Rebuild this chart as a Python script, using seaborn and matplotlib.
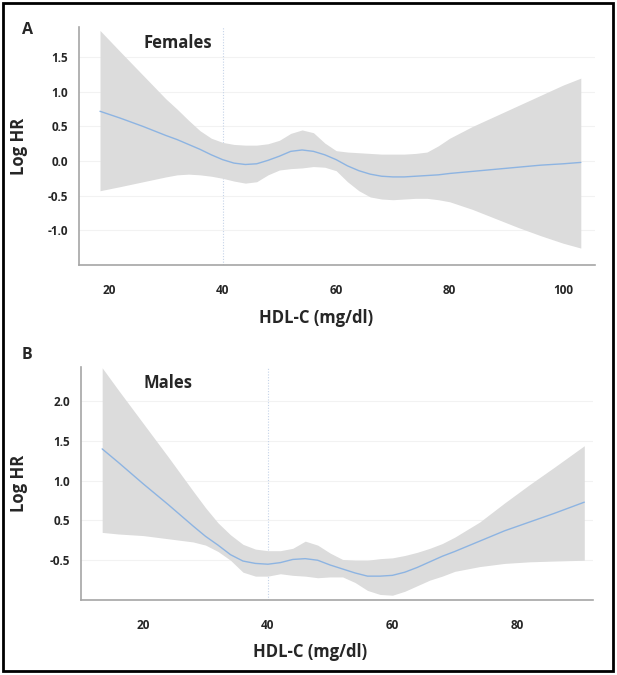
import matplotlib
matplotlib.use("Agg")
import matplotlib.pyplot as plt
import seaborn as sns
import numpy as np

# ---- Panel A: Females ----
fem_x = [18.4, 22, 26, 30, 32, 34, 36, 38, 40, 42, 44, 46, 48, 50, 52, 54, 56, 58, 60,
         62, 64, 66, 68, 70, 72, 74, 76, 78, 80, 84, 88, 92, 96, 100, 103.1]
fem_fit = [0.72, 0.62, 0.50, 0.37, 0.31, 0.24, 0.17, 0.09, 0.02, -0.03, -0.05, -0.04, 0.01,
           0.07, 0.14, 0.16, 0.14, 0.09, 0.02, -0.07, -0.14, -0.19, -0.22, -0.23, -0.23,
           -0.22, -0.21, -0.20, -0.18, -0.15, -0.12, -0.09, -0.06, -0.04, -0.02]
fem_upper = [1.89, 1.58, 1.24, 0.90, 0.75, 0.59, 0.44, 0.33, 0.27, 0.24, 0.23, 0.23, 0.25,
             0.30, 0.40, 0.45, 0.41, 0.26, 0.15, 0.13, 0.12, 0.11, 0.10, 0.10, 0.10, 0.11,
             0.13, 0.22, 0.33, 0.50, 0.65, 0.80, 0.95, 1.10, 1.20]
fem_lower = [-0.43, -0.37, -0.30, -0.23, -0.20, -0.19, -0.20, -0.22, -0.25, -0.29, -0.32,
             -0.30, -0.20, -0.13, -0.11, -0.10, -0.08, -0.09, -0.14, -0.30, -0.43, -0.52,
             -0.55, -0.56, -0.55, -0.54, -0.54, -0.56, -0.59, -0.70, -0.83, -0.96, -1.08,
             -1.19, -1.26]
fem_yticks = [-1.0, -0.5, 0.0, 0.5, 1.0, 1.5]
fem_yticklabels = ["-1.0", "-0.5", "0.0", "0.5", "1.0", "1.5"]
fem_xticks = [20, 40, 60, 80, 100]

# ---- Panel B: Males ----
male_x = [13.4, 16, 20, 24, 28, 30, 32, 34, 36, 38, 40, 42, 44, 46, 48, 50, 52, 54, 56, 58,
          60, 62, 64, 66, 68, 70, 74, 78, 82, 86, 90.8]
male_fit = [1.40, 1.23, 0.96, 0.70, 0.43, 0.30, 0.19, 0.07, -0.01, -0.04, -0.05, -0.03, 0.01,
            0.02, 0.00, -0.06, -0.11, -0.16, -0.20, -0.20, -0.19, -0.15, -0.09, -0.02, 0.05,
            0.11, 0.24, 0.37, 0.48, 0.59, 0.73]
male_upper = [2.42, 2.14, 1.72, 1.30, 0.87, 0.66, 0.47, 0.32, 0.20, 0.14, 0.12, 0.12, 0.15,
              0.24, 0.19, 0.09, 0.01, 0.00, 0.00, 0.02, 0.03, 0.06, 0.10, 0.15, 0.21, 0.29,
              0.48, 0.72, 0.95, 1.17, 1.44]
male_lower = [0.35, 0.33, 0.31, 0.27, 0.23, 0.19, 0.11, 0.00, -0.15, -0.20, -0.20, -0.17,
              -0.19, -0.20, -0.22, -0.21, -0.21, -0.28, -0.38, -0.43, -0.44, -0.39, -0.32,
              -0.25, -0.20, -0.14, -0.08, -0.04, -0.02, -0.01, 0.00]
male_yticks = [0.0, 0.5, 1.0, 1.5, 2.0]
male_yticklabels = ["-0.5", "0.5", "1.0", "1.5", "2.0"]
male_xticks = [20, 40, 60, 80]

ref_line_x = 40
xlabel = "HDL-C (mg/dl)"
ylabel = "Log HR"

sns.set_style("white")
plt.rcParams['font.family'] = ['Open Sans', 'DejaVu Sans']

W, H = 617, 675
fig = plt.figure(figsize=(W / 100, H / 100), dpi=100)

def px_axes(l, t, r, b):
    return fig.add_axes([l / W, 1 - b / H, (r - l) / W, (b - t) / H])

LINE = "#8db4e2"
BAND = "#dcdcdc"
SPINE = "#a6a6a6"

def style(ax, xlim, ylim, xticks, yticks, yticklabels, xlab_pos, ylab_pos):
    ax.set_xlim(*xlim)
    ax.set_ylim(*ylim)
    ax.set_xticks(xticks)
    ax.set_xticklabels([str(t) for t in xticks], fontsize=8.5, fontweight="bold")
    ax.set_yticks(yticks)
    ax.set_yticklabels(yticklabels, fontsize=8.5, fontweight="bold")
    for s in ["top", "right"]:
        ax.spines[s].set_visible(False)
    for s in ["left", "bottom"]:
        ax.spines[s].set_color(SPINE)
        ax.spines[s].set_linewidth(1.2)
    ax.tick_params(axis="both", which="both", length=3, color=SPINE, direction="out")
    ax.tick_params(axis="x", pad=11)
    ax.tick_params(axis="y", pad=5)
    ax.set_axisbelow(True)
    for yt in yticks:
        ax.axhline(yt, color="#f2f2f2", lw=0.8, zorder=0)
    ax.axvline(ref_line_x, color="#c5d3e8", lw=0.8, ls=(0, (1, 1.5)), zorder=0.5)
    ax.set_xlabel(xlabel, fontsize=12, fontweight="bold")
    ax.set_ylabel(ylabel, fontsize=12, fontweight="bold")
    ax.xaxis.set_label_coords(xlab_pos, -0.185)
    ax.yaxis.set_label_coords(ylab_pos, 0.5)

# Panel A
axA = px_axes(79, 27, 595, 265)
axA.fill_between(fem_x, fem_lower, fem_upper, color=BAND, lw=0, zorder=1)
sns.lineplot(x=fem_x, y=fem_fit, ax=axA, color=LINE, lw=1.0, zorder=2)
style(axA, (14.7, 105.6), (-1.505, 1.94), fem_xticks, fem_yticks, fem_yticklabels, 0.46, -0.099)

# Panel B
axB = px_axes(81, 367, 593, 600)
axB.fill_between(male_x, male_lower, male_upper, color=BAND, lw=0, zorder=1)
sns.lineplot(x=male_x, y=male_fit, ax=axB, color=LINE, lw=1.0, zorder=2)
style(axB, (10.0, 92.2), (-0.5, 2.43), male_xticks, male_yticks, male_yticklabels, 0.447, -0.104)

fig.text(27 / W, 1 - 30 / H, "A", fontsize=11.5, fontweight="bold", ha="center", va="center")
fig.text(27 / W, 1 - 355 / H, "B", fontsize=11.5, fontweight="bold", ha="center", va="center")
fig.text(177.5 / W, 1 - 43 / H, "Females", fontsize=12, fontweight="bold", ha="center", va="center")
fig.text(168 / W, 1 - 383 / H, "Males", fontsize=12, fontweight="bold", ha="center", va="center")

fig.add_artist(plt.Rectangle((3 / W, 1 - 671 / H), 610 / W, 668 / H,
                             transform=fig.transFigure, fill=False, lw=2, ec="black"))

fig.savefig("out.png", dpi=100, facecolor="white")
